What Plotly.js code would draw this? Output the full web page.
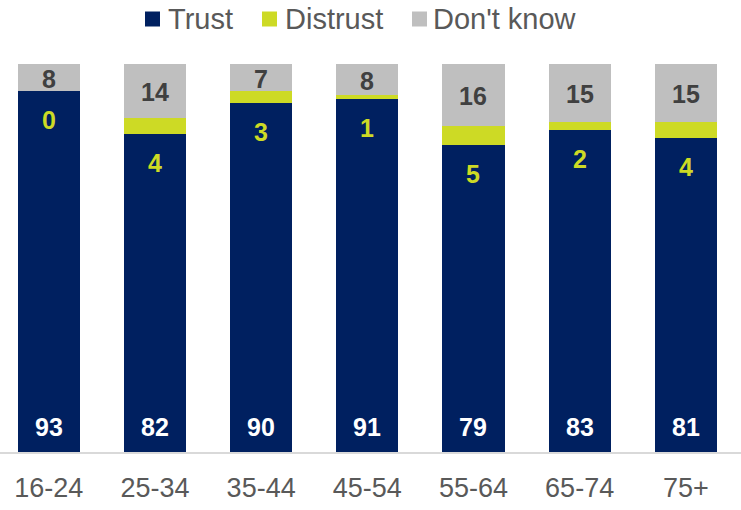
<!DOCTYPE html>
<html><head><meta charset="utf-8">
<script src="https://cdn.plot.ly/plotly-3.0.1.min.js"></script>
<style>html,body{margin:0;padding:0;background:#fff}#chart{width:741px;height:510px}</style>
</head><body><div id="chart"></div>
<script>
const categories = ["16-24","25-34","35-44","45-54","55-64","65-74","75+"];
const seriesNames = ["Trust","Distrust","Don't know"];
const trust = [93,82,90,91,79,83,81];
const distrust = [0,4,3,1,5,2,4];
const dontKnow = [8,14,7,8,16,15,15];

const COLORS = ["#002060", "#CDDA25", "#BFBFBF"];
const FONT = "Liberation Sans, Arial, sans-serif";
const W = 741, H = 510, MT = 64, MB = 58;
const PH = H - MT - MB;

const values = [trust, distrust, dontKnow];
const traces = values.map((v,k)=>({type:"bar", name:seriesNames[k], x:categories, y:v,
  marker:{color:COLORS[k]}, hoverinfo:"skip", showlegend:false}));

const YMAX = 100;
const ann = [];
categories.forEach((c,i)=>{
  ann.push({x:c, y:0, text:String(trust[i]), showarrow:false, yanchor:"middle", yshift:25,
    font:{family:FONT, size:25, color:"#ffffff", weight:"bold"}});
  ann.push({x:c, y:trust[i], text:String(distrust[i]), showarrow:false, yanchor:"middle", yshift:-29,
    font:{family:FONT, size:25, color:COLORS[1], weight:"bold"}});
  const base = trust[i]+distrust[i];
  const top = Math.min(base+dontKnow[i], YMAX);
  ann.push({x:c, y:(base+top)/2, text:String(dontKnow[i]), showarrow:false, yanchor:"middle", yshift:-1,
    font:{family:FONT, size:25, color:"#404040", weight:"bold"}});
});

// custom legend (squares + text), positioned in pixels
const legSquareX = [145, 262, 412];
const legTextX = [166, 283, 431];
const legCenterY = 19;
const shapes = [];
seriesNames.forEach((n,k)=>{
  const py = y => 1 + (MT - y)/PH;
  shapes.push({type:"rect", xref:"paper", yref:"paper", x0:legSquareX[k]/W, x1:(legSquareX[k]+15)/W,
    y0:py(legCenterY+7.5), y1:py(legCenterY-7.5), fillcolor:COLORS[k], line:{width:0}});
  ann.push({xref:"paper", yref:"paper", x:legTextX[k]/W, y:py(legCenterY), xanchor:"left", yanchor:"middle",
    text:n, showarrow:false, font:{family:FONT, size:29, color:"#595959"}});
});

const layout = {
  width:W, height:H,
  margin:{l:0, r:0, t:MT, b:MB},
  barmode:"stack", bargap:0.415,
  paper_bgcolor:"#fff", plot_bgcolor:"#fff",
  showlegend:false,
  xaxis:{range:[-0.46,6.52], showline:true, linecolor:"#D9D9D9", linewidth:2, ticks:"",
    tickfont:{family:FONT, size:27, color:"#595959"}, ticklabelstandoff:11, fixedrange:true},
  yaxis:{range:[0,YMAX], visible:false, showgrid:false, zeroline:false, fixedrange:true},
  annotations:ann, shapes:shapes
};
Plotly.newPlot("chart", traces, layout, {displayModeBar:false, staticPlot:true});
</script></body></html>
